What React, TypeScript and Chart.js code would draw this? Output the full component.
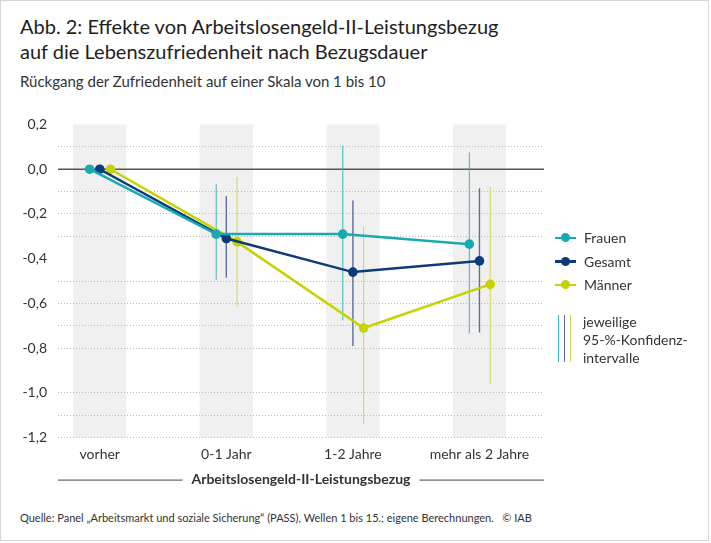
import { useEffect, useRef } from "react";
import { Chart, registerables } from "chart.js";

Chart.register(...registerables);

const categories = ["vorher", "0-1 Jahr", "1-2 Jahre", "mehr als 2 Jahre"];
const seriesNames = ["Frauen", "Gesamt", "Männer"];
const seriesColors = ["#17abaf", "#0c3a7a", "#c6d300"];
const ciColors = ["#3ab7ba", "#5a6e9f", "#d2d847"];
const ciWidths = [1, 1.4, 1];

// Rückgang der Zufriedenheit je Bezugsdauer
const frauen = [0, -0.29, -0.29, -0.335];
const gesamt = [0, -0.31, -0.46, -0.41];
const maenner = [0, -0.325, -0.71, -0.515];

// 95-%-Konfidenzintervalle (keins für "vorher")
const frauenLow = [null, -0.495, -0.675, -0.735];
const frauenHigh = [null, -0.065, 0.105, 0.075];
const gesamtLow = [null, -0.485, -0.79, -0.73];
const gesamtHigh = [null, -0.12, -0.14, -0.085];
const maennerLow = [null, -0.615, -1.14, -0.96];
const maennerHigh = [null, -0.035, -0.255, -0.08];

// gridlines that the original leaves out
const hiddenGrid = [0.2, 0, -0.4, -0.9];

const FONT = "Lato, 'Open Sans', sans-serif";
const offsets = [-0.08, 0, 0.085];
const values = [frauen, gesamt, maenner];
const lows = [frauenLow, gesamtLow, maennerLow];
const highs = [frauenHigh, gesamtHigh, maennerHigh];

const decorPlugin = {
  id: "decor",
  beforeDraw(chart: any) {
    const { ctx, chartArea, scales } = chart;
    ctx.save();
    ctx.fillStyle = "#f0f0f0";
    categories.forEach((_, i) => {
      const l = scales.x.getPixelForValue(i - 0.21);
      const r = scales.x.getPixelForValue(i + 0.21);
      ctx.fillRect(l, chartArea.top, r - l, chartArea.bottom - chartArea.top);
    });
    ctx.restore();
  },
  beforeDatasetsDraw(chart: any) {
    const { ctx, chartArea, scales } = chart;
    ctx.save();
    // zero line
    const y0 = scales.y.getPixelForValue(0);
    ctx.strokeStyle = "#555";
    ctx.lineWidth = 1.3;
    ctx.beginPath();
    ctx.moveTo(chartArea.left, y0);
    ctx.lineTo(chartArea.right, y0);
    ctx.stroke();
    // confidence intervals
    lows.forEach((low, s) => {
      ctx.strokeStyle = ciColors[s];
      ctx.lineWidth = ciWidths[s];
      low.forEach((lo, i) => {
        const hi = highs[s][i];
        if (lo === null || hi === null) return;
        const x = scales.x.getPixelForValue(i + offsets[s]);
        ctx.beginPath();
        ctx.moveTo(x, scales.y.getPixelForValue(hi));
        ctx.lineTo(x, scales.y.getPixelForValue(lo));
        ctx.stroke();
      });
    });
    ctx.restore();
  },
  afterDraw(chart: any) {
    const { ctx, chartArea } = chart;
    const title = "Arbeitslosengeld-II-Leistungsbezug";
    const y = chartArea.bottom + 42;
    const cx = (chartArea.left + chartArea.right) / 2;
    ctx.save();
    ctx.font = `bold 14px ${FONT}`;
    ctx.fillStyle = "#333";
    ctx.textAlign = "center";
    ctx.textBaseline = "middle";
    ctx.fillText(title, cx, y);
    const w = ctx.measureText(title).width;
    ctx.strokeStyle = "#444";
    ctx.lineWidth = 1;
    ctx.beginPath();
    ctx.moveTo(chartArea.left, y + 0.5);
    ctx.lineTo(cx - w / 2 - 9, y + 0.5);
    ctx.moveTo(cx + w / 2 + 9, y + 0.5);
    ctx.lineTo(chartArea.right, y + 0.5);
    ctx.stroke();
    ctx.restore();
  },
};

function LegendMarker({ color }: { color: string }) {
  return (
    <span style={{ position: "relative", display: "inline-block", width: 21, height: 10, marginRight: 8 }}>
      <span style={{ position: "absolute", left: 0, top: 4, width: 21, height: 2.5, background: color }} />
      <span
        style={{
          position: "absolute",
          left: 6,
          top: 0.5,
          width: 9,
          height: 9,
          borderRadius: "50%",
          background: color,
        }}
      />
    </span>
  );
}

export default function App() {
  const chartRef = useRef<HTMLCanvasElement>(null);
  const chartInstance = useRef<Chart | null>(null);

  useEffect(() => {
    document.body.style.margin = "0";
    if (!chartRef.current) return;
    if (chartInstance.current) chartInstance.current.destroy();

    const ctx = chartRef.current.getContext("2d");
    if (!ctx) return;

    chartInstance.current = new Chart(ctx, {
      type: "line",
      data: {
        datasets: seriesNames.map((name, s) => ({
          label: name,
          data: values[s].map((v, i) => ({ x: i + offsets[s], y: v })),
          borderColor: seriesColors[s],
          backgroundColor: seriesColors[s],
          borderWidth: 2.5,
          pointRadius: 4.8,
          pointHoverRadius: 4.8,
          pointBorderWidth: 0,
        })),
      },
      options: {
        responsive: true,
        maintainAspectRatio: false,
        animation: false,
        layout: { padding: { top: 24.5, right: 167, left: 0, bottom: 0 } },
        plugins: {
          legend: { display: false },
          tooltip: { enabled: false },
        },
        scales: {
          x: {
            type: "linear",
            min: -0.33,
            max: 3.51,
            afterBuildTicks: (scale: any) => {
              scale.ticks = categories.map((_, i) => ({ value: i }));
            },
            afterFit: (scale: any) => {
              scale.height = 62.4;
            },
            grid: { display: false, drawTicks: false },
            border: { display: false },
            ticks: {
              padding: 8,
              color: "#333",
              font: { family: FONT, size: 14 },
              callback: (v: any) => categories[Math.round(Number(v))] ?? "",
            },
          },
          y: {
            min: -1.2,
            max: 0.2,
            afterFit: (scale: any) => {
              scale.width = 58;
            },
            grid: {
              drawTicks: false,
              lineWidth: 1,
              color: (c: any) => {
                const k = Math.round(c.tick.value * 10);
                return hiddenGrid.some((h) => Math.round(h * 10) === k) ? "rgba(0,0,0,0)" : "#b8b8b8";
              },
            },
            border: { display: false, dash: [1, 2] },
            ticks: {
              stepSize: 0.1,
              padding: 11,
              color: "#333",
              font: { family: FONT, size: 14 },
              autoSkip: false,
              callback: (v: any) => {
                const k = Math.round(Number(v) * 10);
                if (k % 2 !== 0) return "";
                return (k / 10).toFixed(1).replace(".", ",").replace("-0,0", "0,0");
              },
            },
          },
        },
      },
      plugins: [decorPlugin],
    });

    return () => {
      if (chartInstance.current) {
        chartInstance.current.destroy();
        chartInstance.current = null;
      }
    };
  }, []);

  return (
    <div
      style={{
        position: "relative",
        width: 711,
        height: 543,
        fontFamily: FONT,
        color: "#222",
        background: "#fff",
      }}
    >
      <div
        style={{
          position: "absolute",
          left: 0,
          top: 0,
          width: 709,
          height: 541,
          border: "1px solid #d6d6d6",
          boxSizing: "border-box",
        }}
      />
      <div style={{ position: "absolute", left: 20, top: 14, fontSize: 20, lineHeight: "25px", color: "#1e1e1e" }}>
        Abb. 2: Effekte von Arbeitslosengeld-II-Leistungsbezug
        <br />
        auf die Lebenszufriedenheit nach Bezugsdauer
      </div>
      <div style={{ position: "absolute", left: 20, top: 71, fontSize: 15, lineHeight: "20px", color: "#333" }}>
        Rückgang der Zufriedenheit auf einer Skala von 1 bis 10
      </div>
      <div style={{ position: "absolute", left: 0, top: 100, width: 711, height: 400 }}>
        <canvas ref={chartRef} />
      </div>
      <div style={{ position: "absolute", left: 555, top: 226, fontSize: 14, color: "#333" }}>
        {seriesNames.map((name, s) => (
          <div key={name} style={{ display: "flex", alignItems: "center", height: 23.5 }}>
            <LegendMarker color={seriesColors[s]} />
            <span>{name}</span>
          </div>
        ))}
      </div>
      {ciColors.map((c, s) => (
        <div
          key={c}
          style={{ position: "absolute", left: 558 + s * 6, top: 315, width: 1, height: 47, background: c }}
        />
      ))}
      <div style={{ position: "absolute", left: 583, top: 313, fontSize: 14, lineHeight: "18px", color: "#333" }}>
        jeweilige
        <br />
        95-%-Konfidenz-
        <br />
        intervalle
      </div>
      <div style={{ position: "absolute", left: 20, top: 511, fontSize: 11, color: "#333", whiteSpace: "nowrap" }}>
        Quelle: Panel „Arbeitsmarkt und soziale Sicherung“ (PASS), Wellen 1 bis 15.; eigene Berechnungen.&nbsp;&nbsp; © IAB
      </div>
    </div>
  );
}
